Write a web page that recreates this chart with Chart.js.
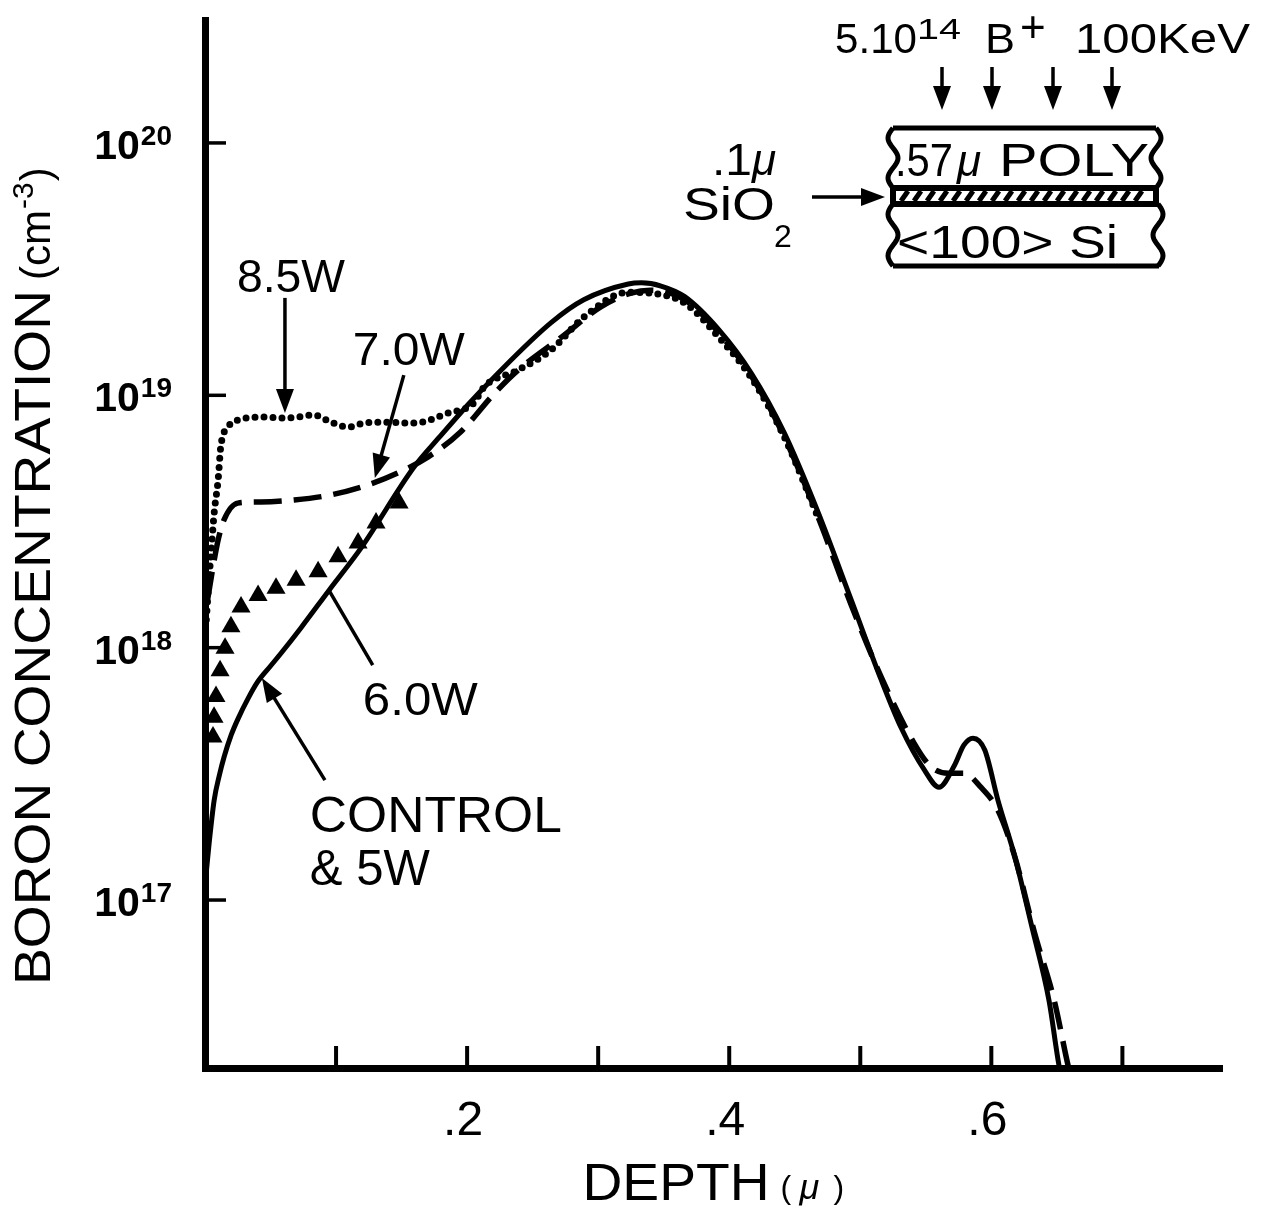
<!DOCTYPE html>
<html>
<head>
<meta charset="utf-8">
<script src="https://cdn.jsdelivr.net/npm/chart.js@4.4.0/dist/chart.umd.min.js"></script>
<style>
html, body { margin: 0; padding: 0; background: #fff; }
#chart { display: block; }
</style>
</head>
<body>
<canvas id="chart" width="1263" height="1210"></canvas>
<script>
// values: depth in microns, boron concentration in cm-3
const controlDepth = [0.001, 0.003, 0.007, 0.011, 0.0145, 0.020, 0.025, 0.033, 0.040, 0.050,
    0.058, 0.0733, 0.0947, 0.119, 0.1595, 0.179, 0.2008, 0.2206, 0.2641, 0.289, 0.323, 0.333,
    0.348, 0.366, 0.392, 0.417, 0.442, 0.468, 0.493, 0.516, 0.531, 0.549, 0.560, 0.572,
    0.579, 0.586, 0.595, 0.605, 0.618, 0.631, 0.644, 0.652, 0.656];
const controlConc = [1.29e17, 1.65e17, 2.49e17, 3.13e17, 3.68e17, 4.51e17, 5.2e17, 6.31e17, 7.3e17, 8.46e17,
    9.5e17, 1.20e18, 1.69e18, 2.48e18, 5.2e18, 6.84e18, 9.2e18, 1.18e19, 1.94e19, 2.39e19, 2.76e19, 2.79e19,
    2.71e19, 2.46e19, 1.82e19, 1.22e19, 7.1e18, 3.42e18, 1.55e18, 7.45e17, 4.84e17, 3.27e17, 2.80e17, 3.43e17,
    4.11e17, 4.38e17, 3.93e17, 2.49e17, 1.48e17, 7.8e16, 4.0e16, 2.16e16, 1.8e16];

const w70Depth = [0.002, 0.007, 0.010, 0.0145, 0.025, 0.0427, 0.068, 0.096, 0.124, 0.147,
    0.170, 0.195, 0.221, 0.239, 0.272, 0.302, 0.325, 0.340, 0.366, 0.392,
    0.417, 0.442, 0.468, 0.493, 0.516, 0.541, 0.554, 0.567, 0.579, 0.592,
    0.605, 0.618, 0.633, 0.648, 0.659, 0.663];
const w70Conc = [1.55e18, 2.22e18, 2.67e18, 3.21e18, 3.74e18, 3.78e18, 3.85e18, 4.03e18, 4.41e18, 4.92e18,
    5.69e18, 7.16e18, 1.02e19, 1.26e19, 1.70e19, 2.24e19, 2.54e19, 2.61e19, 2.39e19, 1.77e19,
    1.19e19, 6.84e18, 3.27e18, 1.48e18, 7.64e17, 4.19e17, 3.37e17, 3.18e17, 3.18e17, 2.80e17,
    2.27e17, 1.48e17, 7.4e16, 4.0e16, 2.16e16, 1.8e16];

const w85Depth = [0.001, 0.003, 0.0046, 0.007, 0.010, 0.012, 0.0176, 0.025, 0.045, 0.058,
    0.071, 0.083, 0.096, 0.109, 0.121, 0.134, 0.160, 0.1855, 0.205, 0.213,
    0.239, 0.264, 0.289, 0.323, 0.340, 0.366, 0.392, 0.417, 0.442, 0.468];
const w85Conc = [1.29e18, 1.85e18, 2.37e18, 3.42e18, 4.61e18, 6.24e18, 7.48e18, 7.98e18, 8.20e18, 8.13e18,
    8.20e18, 8.36e18, 7.83e18, 7.48e18, 7.76e18, 7.83e18, 7.76e18, 8.51e18, 9.31e18, 1.08e19,
    1.26e19, 1.51e19, 2.04e19, 2.56e19, 2.54e19, 2.32e19, 1.70e19, 1.17e19, 6.84e18, 3.27e18];

const w60Depth = [0.0061, 0.0069, 0.0084, 0.0115, 0.0153, 0.0198, 0.0275, 0.0405, 0.0542, 0.0695,
    0.0863, 0.1015, 0.1168, 0.1305, 0.1481];
const w60Conc = [4.43e17, 5.3e17, 6.4e17, 8.1e17, 9.95e17, 1.21e18, 1.45e18, 1.61e18, 1.72e18, 1.85e18,
    2.0e18, 2.29e18, 2.60e18, 3.12e18, 3.74e18];

const xTicks = [0.1, 0.2, 0.3, 0.4, 0.5, 0.6, 0.7];
const xTickLabels = ['', '.2', '', '.4', '', '.6', ''];
const yTickExps = [17, 18, 19, 20];
const yTickBase = '10';

const FONT = '"Liberation Sans", Arial, Helvetica, sans-serif';

function pts(xs, ys) {
    const out = [];
    for (let i = 0; i < xs.length; i++) out.push({x: xs[i], y: ys[i]});
    return out;
}

function setFont(ctx, size, bold, italic) {
    ctx.font = (italic ? 'italic ' : '') + (bold ? 'bold ' : '') + size + 'px ' + FONT;
}

// left-aligned text, stretched sideways to a given width (the original lettering is wide)
function text(ctx, s, x, y, size, width, italic) {
    setFont(ctx, size, false, italic);
    ctx.textAlign = 'left';
    ctx.textBaseline = 'alphabetic';
    const w = ctx.measureText(s).width;
    const sx = width ? width / w : 1;
    ctx.save();
    ctx.translate(x, y);
    ctx.scale(sx, 1);
    ctx.fillText(s, 0, 0);
    ctx.restore();
    return w * sx;
}

function line(ctx, x1, y1, x2, y2, w) {
    ctx.lineWidth = w;
    ctx.beginPath();
    ctx.moveTo(x1, y1);
    ctx.lineTo(x2, y2);
    ctx.stroke();
}

function arrow(ctx, x1, y1, x2, y2, w, head) {
    const a = Math.atan2(y2 - y1, x2 - x1);
    const hl = head ? 24 : 0, hw = 9;
    line(ctx, x1, y1, x2 - Math.cos(a) * hl * 0.8, y2 - Math.sin(a) * hl * 0.8, w);
    if (!head) return;
    ctx.beginPath();
    ctx.moveTo(x2, y2);
    ctx.lineTo(x2 - Math.cos(a) * hl - Math.sin(a) * hw, y2 - Math.sin(a) * hl + Math.cos(a) * hw);
    ctx.lineTo(x2 - Math.cos(a) * hl + Math.sin(a) * hw, y2 - Math.sin(a) * hl - Math.cos(a) * hw);
    ctx.closePath();
    ctx.fill();
}

function wavy(ctx, x, y1, y2, amp) {
    ctx.beginPath();
    ctx.moveTo(x, y1);
    for (let i = 1; i <= 30; i++) {
        const t = i / 30;
        ctx.lineTo(x + amp * Math.sin(t * Math.PI * 3), y1 + (y2 - y1) * t);
    }
    ctx.stroke();
}

// labels and arrows placed in data units (depth, log10 concentration)
const curveLabels = [
    {text: '8.5W', d: 0.0244, e: 19.409, size: 47, w: 108},
    {text: '7.0W', d: 0.1128, e: 19.120, size: 47, w: 112},
    {text: '6.0W', d: 0.1204, e: 17.733, size: 47, w: 115},
    {text: 'CONTROL', d: 0.0800, e: 17.269, size: 50, w: 252},
    {text: '& 5W', d: 0.0800, e: 17.059, size: 50, w: 120}
];
const curveArrows = [
    {d1: 0.061, e1: 19.386, d2: 0.061, e2: 18.930, head: true},
    {d1: 0.1517, e1: 19.080, d2: 0.1296, e2: 18.672, head: true},
    {d1: 0.128, e1: 17.931, d2: 0.0945, e2: 18.228, head: false},
    {d1: 0.0915, e1: 17.475, d2: 0.0434, e2: 17.880, head: true}
];

const decor = {
    id: 'decor',
    afterDraw(chart) {
        const ctx = chart.ctx;
        const xs = chart.scales.x, ys = chart.scales.y;
        const area = chart.chartArea;
        const X = v => xs.getPixelForValue(v);
        const Y = e => ys.getPixelForValue(Math.pow(10, e));
        ctx.save();
        ctx.fillStyle = '#000';
        ctx.strokeStyle = '#000';
        ctx.lineCap = 'butt';

        // inward tick marks
        xTicks.forEach(v => line(ctx, X(v), area.bottom, X(v), area.bottom - 22, 4));
        yTickExps.forEach(e => line(ctx, area.left, Y(e), area.left + 21, Y(e), 3.5));

        // y tick labels with superscript exponents
        yTickExps.forEach(e => {
            const y = Y(e);
            const right = area.left - 33;
            setFont(ctx, 28, true);
            ctx.textAlign = 'right';
            ctx.textBaseline = 'alphabetic';
            ctx.fillText(String(e), right, y + 2);
            const sw = ctx.measureText(String(e)).width;
            setFont(ctx, 41, true);
            ctx.fillText(yTickBase, right - sw - 1, y + 16);
        });

        // x tick labels
        setFont(ctx, 48, false);
        ctx.textAlign = 'center';
        xTicks.forEach((v, i) => {
            if (xTickLabels[i]) ctx.fillText(xTickLabels[i], X(v) - 4, area.bottom + 67);
        });

        // x axis title
        const cx = (area.left + area.right) / 2;
        text(ctx, 'DEPTH', cx - 131, area.bottom + 132, 52, 187);
        text(ctx, '(', cx + 67, area.bottom + 130, 32);
        text(ctx, '\u03bc', cx + 86, area.bottom + 131, 36, 0, true);
        text(ctx, ')', cx + 120, area.bottom + 130, 32);

        // y axis title, rotated
        ctx.save();
        ctx.translate(50, (area.top + area.bottom) / 2 + 441);
        ctx.rotate(-Math.PI / 2);
        text(ctx, 'BORON CONCENTRATION', 0, 0, 50, 695);
        let px = 695 + 10;
        px += text(ctx, '(cm', px, 0, 42) + 1;
        px += text(ctx, '-3', px, -17, 30) + 1;
        text(ctx, ')', px, 0, 42);
        ctx.restore();

        // curve labels and pointers
        curveLabels.forEach(l => text(ctx, l.text, X(l.d), Y(l.e), l.size, l.w));
        curveArrows.forEach(a => arrow(ctx, X(a.d1), Y(a.e1), X(a.d2), Y(a.e2), 3.5, a.head));

        // inset: implant through poly / oxide / silicon stack
        const R = area.right, T = area.top;
        text(ctx, '5.10', R - 387, T + 33, 43, 82);
        text(ctx, '14', R - 305, T + 19, 30, 44);
        text(ctx, 'B', R - 237, T + 33, 43, 30);
        text(ctx, '+', R - 202, T + 22, 44);
        text(ctx, '100KeV', R - 147, T + 33, 43, 175);
        [-280, -230, -169, -110].forEach(dx => arrow(ctx, R + dx, T + 47, R + dx, T + 90, 3.5, true));

        const bl = R - 329, br = R - 66;
        const bt = T + 108, pb = T + 168, st = T + 184, bb = T + 246;
        line(ctx, bl, bt, br, bt, 5);
        line(ctx, bl, bb, br + 3, bb, 5);
        ctx.lineWidth = 5;
        wavy(ctx, bl, bt, pb, -5);
        wavy(ctx, br, bt, pb, 5);
        wavy(ctx, bl, st, bb, -5);
        wavy(ctx, br + 2, st, bb, 5);
        ctx.fillRect(bl - 3, pb - 3, br - bl + 6, st - pb + 6);
        ctx.fillStyle = '#fff';
        ctx.fillRect(bl + 3, pb + 3, br - bl - 6, st - pb - 6);
        ctx.fillStyle = '#000';
        for (let hx = bl + 8; hx < br - 8; hx += 13) line(ctx, hx, st - 3, hx + 7, pb + 3, 5);

        text(ctx, '.57', bl + 2, T + 156, 46, 58);
        text(ctx, '\u03bc', bl + 64, T + 156, 44, 0, true);
        text(ctx, 'POLY', bl + 106, T + 156, 46, 150);
        text(ctx, '<100> Si', bl + 4, T + 238, 46, 221);

        text(ctx, '.1', R - 510, T + 155, 44, 40);
        text(ctx, '\u03bc', R - 470, T + 155, 44, 0, true);
        text(ctx, 'SiO', R - 539, T + 200, 46, 92);
        text(ctx, '2', R - 448, T + 227, 32);
        arrow(ctx, R - 410, T + 177, R - 337, T + 177, 3.5, true);

        ctx.restore();
    }
};

new Chart(document.getElementById('chart').getContext('2d'), {
    type: 'scatter',
    data: {
        datasets: [{
            label: 'CONTROL & 5W',
            data: pts(controlDepth, controlConc),
            showLine: true,
            borderColor: '#000',
            borderWidth: 5,
            pointRadius: 0,
            cubicInterpolationMode: 'monotone'
        }, {
            label: '7.0W',
            data: pts(w70Depth, w70Conc),
            showLine: true,
            borderColor: '#000',
            borderWidth: 5.5,
            borderDash: [28, 12],
            pointRadius: 0,
            cubicInterpolationMode: 'monotone'
        }, {
            label: '8.5W',
            data: pts(w85Depth, w85Conc),
            showLine: true,
            borderColor: '#000',
            borderWidth: 7,
            borderDash: [0, 9],
            borderCapStyle: 'round',
            pointRadius: 0,
            cubicInterpolationMode: 'monotone'
        }, {
            label: '6.0W',
            data: pts(w60Depth, w60Conc),
            showLine: false,
            pointStyle: 'triangle',
            pointRadius: 11,
            backgroundColor: '#000',
            borderColor: '#000',
            borderWidth: 0
        }]
    },
    options: {
        responsive: false,
        animation: false,
        devicePixelRatio: 1,
        layout: {padding: {left: 0, top: 20, right: 41, bottom: 0}},
        plugins: {legend: {display: false}, tooltip: {enabled: false}},
        scales: {
            x: {
                type: 'linear', min: 0, max: 0.776,
                ticks: {display: false},
                grid: {display: false},
                border: {color: '#000', width: 7},
                afterFit: s => { s.height = 142; }
            },
            y: {
                type: 'logarithmic', min: 2.16e16, max: 3.07e20,
                ticks: {display: false},
                grid: {display: false},
                border: {color: '#000', width: 7},
                afterFit: s => { s.width = 205; }
            }
        }
    },
    plugins: [decor]
});
</script>
</body>
</html>
